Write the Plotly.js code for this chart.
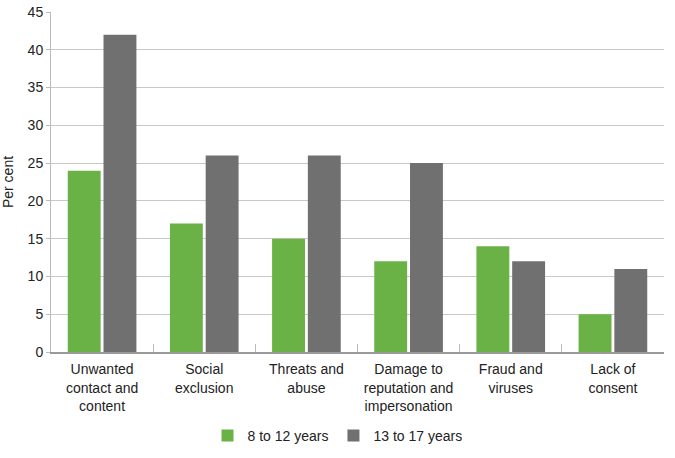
<!DOCTYPE html>
<html><head><meta charset="utf-8">
<script src="https://cdn.plot.ly/plotly-3.0.1.min.js"></script>
<style>html,body{margin:0;padding:0;background:#fff}</style>
</head><body><div id="chart" style="width:675px;height:458px"></div>
<script>
const categories = ["Unwanted<br>contact and<br>content","Social<br>exclusion","Threats and<br>abuse","Damage to<br>reputation and<br>impersonation","Fraud and<br>viruses","Lack of<br>consent"];
const seriesNames = ["8 to 12 years","13 to 17 years"];
const young = [24,17,15,12,14,5];
const older = [42,26,26,25,12,11];
const yTicks = [0,5,10,15,20,25,30,35,40,45];

const font = {family:"Liberation Sans, Arial, sans-serif", size:14, color:"#222"};
const data = [
  {type:"bar", x:categories, y:young, name:seriesNames[0], marker:{color:"#6ab246"}},
  {type:"bar", x:categories, y:older, name:seriesNames[1], marker:{color:"#717070"}}
];
const layout = {
  width:675, height:458,
  margin:{l:51, r:11, t:12, b:106, autoexpand:false},
  font:font,
  barmode:"group", bargap:0.3, bargroupgap:0.08,
  paper_bgcolor:"#fff", plot_bgcolor:"#fff",
  showlegend:true,
  legend:{orientation:"h", xref:"container", x:0.5, xanchor:"center", yref:"container", y:0.048, yanchor:"middle", font:font, itemwidth:30, traceorder:"normal"},
  xaxis:{type:"category", automargin:false, showline:true, linecolor:"#999", linewidth:1.5, ticks:"inside", tickson:"boundaries", ticklen:8, tickcolor:"#bbb", showgrid:false, tickfont:font, ticklabelstandoff:4, fixedrange:true},
  yaxis:{range:[0,45], automargin:false, tickvals:yTicks, showline:true, linecolor:"#bbb", linewidth:1, ticks:"outside", ticklen:4, tickcolor:"#bbb", gridcolor:"#c8c8c8", gridwidth:1, zeroline:false, tickfont:font,
    title:{text:"Per cent", font:font, standoff:10}},
};
Plotly.newPlot("chart", data, layout, {displayModeBar:false, staticPlot:true});
</script></body></html>
